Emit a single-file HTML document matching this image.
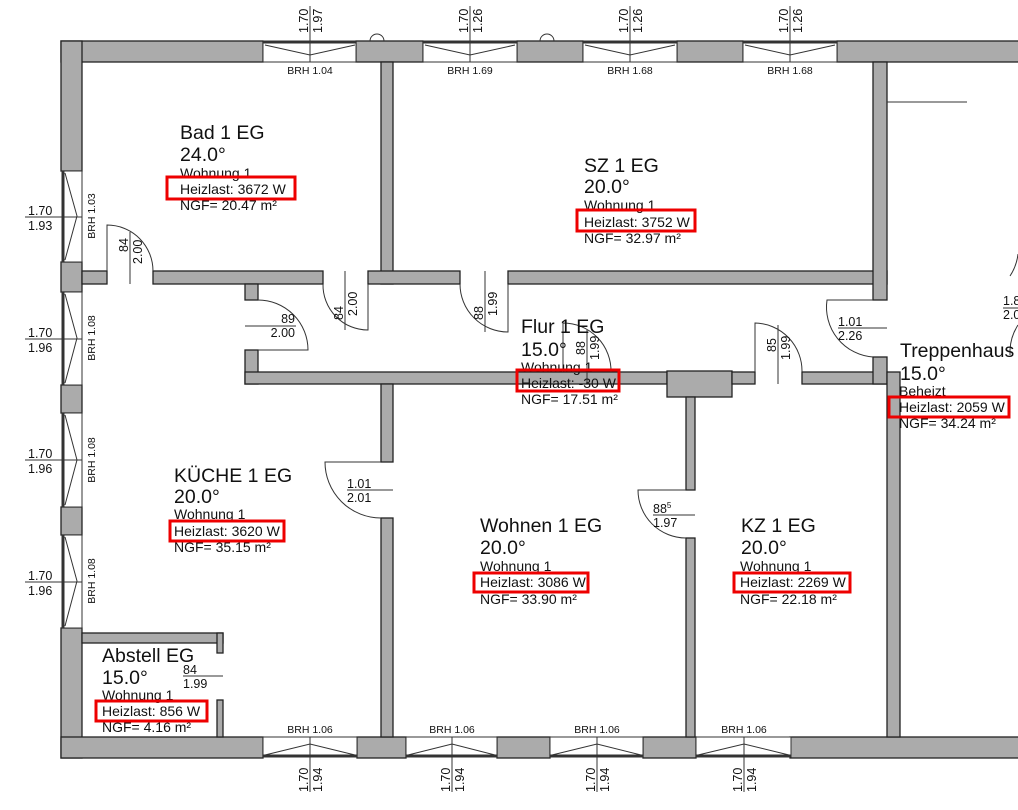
<!DOCTYPE html>
<html><head><meta charset="utf-8"><style>
html,body{margin:0;padding:0;background:#fff;}
svg{display:block;}
text{font-family:"Liberation Sans",Arial,sans-serif;fill:#111;}
.w{fill:#ababab;stroke:#222;stroke-width:1.3;}
.l{stroke:#333;stroke-width:1;fill:none;}
.nm{font-size:19.5px;}
.sm{font-size:14px;}
.d{font-size:12.5px;}
.b{font-size:10.5px;}
.r{fill:none;stroke:#e00;stroke-width:3;}
</style></head><body>
<svg width="1018" height="810" viewBox="0 0 1018 810" xmlns="http://www.w3.org/2000/svg">
<!-- outer walls -->
<rect class="w" x="61" y="41" width="202" height="21"/>
<rect class="w" x="356" y="41" width="67" height="21"/>
<rect class="w" x="517" y="41" width="66" height="21"/>
<rect class="w" x="677" y="41" width="66" height="21"/>
<rect class="w" x="837" y="41" width="185" height="21"/>
<rect class="w" x="61" y="41" width="21" height="130"/>
<rect class="w" x="61" y="262" width="21" height="30"/>
<rect class="w" x="61" y="385" width="21" height="28"/>
<rect class="w" x="61" y="507" width="21" height="28"/>
<rect class="w" x="61" y="628" width="21" height="130"/>
<rect class="w" x="61" y="737" width="202" height="21"/>
<rect class="w" x="357" y="737" width="49" height="21"/>
<rect class="w" x="497" y="737" width="53" height="21"/>
<rect class="w" x="643" y="737" width="53" height="21"/>
<rect class="w" x="790" y="737" width="232" height="21"/>
<!-- interior walls -->
<rect class="w" x="381" y="62" width="12" height="222"/>
<rect class="w" x="82" y="271" width="25" height="13"/>
<rect class="w" x="153" y="271" width="170" height="13"/>
<rect class="w" x="368" y="271" width="92" height="13"/>
<rect class="w" x="508" y="271" width="379" height="13"/>
<rect class="w" x="873" y="62" width="14" height="238"/>
<rect class="w" x="245" y="284" width="13" height="16"/>
<rect class="w" x="245" y="350" width="13" height="34"/>
<rect class="w" x="245" y="372" width="422" height="12"/>
<rect class="w" x="667" y="371" width="65" height="26"/>
<rect class="w" x="732" y="372" width="23" height="12"/>
<rect class="w" x="802" y="372" width="85" height="12"/>
<rect class="w" x="873" y="357" width="14" height="27"/>
<rect class="w" x="887" y="372" width="13" height="365"/>
<rect class="w" x="381" y="384" width="12" height="78"/>
<rect class="w" x="381" y="518" width="12" height="219"/>
<rect class="w" x="686" y="397" width="9" height="93"/>
<rect class="w" x="686" y="538" width="9" height="199"/>
<rect class="w" x="82" y="633" width="141" height="10"/>
<rect class="w" x="217" y="633" width="6" height="20"/>
<rect class="w" x="217" y="700" width="6" height="37"/>
<line class="l" x1="887" y1="102" x2="967" y2="102"/>

<!-- top windows -->
<g>
<g class="l">
<rect x="263" y="42" width="93" height="20" fill="#fff"/><line x1="263" y1="42" x2="356" y2="42" stroke-width="3"/>
<polyline points="265,45 310,55 355,45"/><line x1="310" y1="6" x2="310" y2="62"/>
<rect x="423" y="42" width="94" height="20" fill="#fff"/><line x1="423" y1="42" x2="517" y2="42" stroke-width="3"/>
<polyline points="425,45 470,55 515,45"/><line x1="470" y1="6" x2="470" y2="62"/>
<rect x="583" y="42" width="94" height="20" fill="#fff"/><line x1="583" y1="42" x2="677" y2="42" stroke-width="3"/>
<polyline points="585,45 630,55 675,45"/><line x1="630" y1="6" x2="630" y2="62"/>
<rect x="743" y="42" width="94" height="20" fill="#fff"/><line x1="743" y1="42" x2="837" y2="42" stroke-width="3"/>
<polyline points="745,45 790,55 835,45"/><line x1="790" y1="6" x2="790" y2="62"/>
<path d="M370 41 a7 7 0 0 1 14 0"/><path d="M540 41 a7 7 0 0 1 14 0"/>
</g>
<text class="d" transform="translate(308,33) rotate(-90)">1.70</text><text class="d" transform="translate(322,33) rotate(-90)">1.97</text>
<text class="d" transform="translate(468,33) rotate(-90)">1.70</text><text class="d" transform="translate(482,33) rotate(-90)">1.26</text>
<text class="d" transform="translate(628,33) rotate(-90)">1.70</text><text class="d" transform="translate(642,33) rotate(-90)">1.26</text>
<text class="d" transform="translate(788,33) rotate(-90)">1.70</text><text class="d" transform="translate(802,33) rotate(-90)">1.26</text>
<text class="b" x="310" y="74" text-anchor="middle">BRH 1.04</text>
<text class="b" x="470" y="74" text-anchor="middle">BRH 1.69</text>
<text class="b" x="630" y="74" text-anchor="middle">BRH 1.68</text>
<text class="b" x="790" y="74" text-anchor="middle">BRH 1.68</text>
</g>

<!-- bottom windows -->
<g class="l">
<rect x="263" y="737" width="94" height="20" fill="#fff"/><line x1="263" y1="756" x2="357" y2="756" stroke-width="3"/>
<polyline points="265,755 310,744 355,755"/><line x1="310" y1="737" x2="310" y2="792"/>
<rect x="406" y="737" width="91" height="20" fill="#fff"/><line x1="406" y1="756" x2="497" y2="756" stroke-width="3"/>
<polyline points="408,755 452,744 495,755"/><line x1="452" y1="737" x2="452" y2="792"/>
<rect x="550" y="737" width="93" height="20" fill="#fff"/><line x1="550" y1="756" x2="643" y2="756" stroke-width="3"/>
<polyline points="552,755 597,744 641,755"/><line x1="597" y1="737" x2="597" y2="792"/>
<rect x="696" y="737" width="95" height="20" fill="#fff"/><line x1="696" y1="756" x2="791" y2="756" stroke-width="3"/>
<polyline points="698,755 744,744 789,755"/><line x1="744" y1="737" x2="744" y2="792"/>
</g>
<text class="b" x="310" y="733" text-anchor="middle">BRH 1.06</text>
<text class="b" x="452" y="733" text-anchor="middle">BRH 1.06</text>
<text class="b" x="597" y="733" text-anchor="middle">BRH 1.06</text>
<text class="b" x="744" y="733" text-anchor="middle">BRH 1.06</text>
<text class="d" transform="translate(308,792) rotate(-90)">1.70</text><text class="d" transform="translate(322,792) rotate(-90)">1.94</text>
<text class="d" transform="translate(450,792) rotate(-90)">1.70</text><text class="d" transform="translate(464,792) rotate(-90)">1.94</text>
<text class="d" transform="translate(595,792) rotate(-90)">1.70</text><text class="d" transform="translate(609,792) rotate(-90)">1.94</text>
<text class="d" transform="translate(742,792) rotate(-90)">1.70</text><text class="d" transform="translate(756,792) rotate(-90)">1.94</text>

<!-- left windows -->
<g class="l">
<rect x="62" y="171" width="20" height="91" fill="#fff"/><line x1="63" y1="171" x2="63" y2="262" stroke-width="3"/>
<polyline points="65,173 77,216 65,260"/><line x1="25" y1="217" x2="82" y2="217"/>
<rect x="62" y="292" width="20" height="93" fill="#fff"/><line x1="63" y1="292" x2="63" y2="385" stroke-width="3"/>
<polyline points="65,294 77,338 65,383"/><line x1="25" y1="339" x2="82" y2="339"/>
<rect x="62" y="413" width="20" height="94" fill="#fff"/><line x1="63" y1="413" x2="63" y2="507" stroke-width="3"/>
<polyline points="65,415 77,460 65,505"/><line x1="25" y1="460" x2="82" y2="460"/>
<rect x="62" y="535" width="20" height="93" fill="#fff"/><line x1="63" y1="535" x2="63" y2="628" stroke-width="3"/>
<polyline points="65,537 77,581 65,626"/><line x1="25" y1="582" x2="82" y2="582"/>
</g>
<text class="d" x="28" y="215">1.70</text><text class="d" x="28" y="230">1.93</text>
<text class="d" x="28" y="337">1.70</text><text class="d" x="28" y="352">1.96</text>
<text class="d" x="28" y="458">1.70</text><text class="d" x="28" y="473">1.96</text>
<text class="d" x="28" y="580">1.70</text><text class="d" x="28" y="595">1.96</text>
<text class="b" transform="translate(95,216) rotate(-90)" text-anchor="middle">BRH 1.03</text>
<text class="b" transform="translate(95,338) rotate(-90)" text-anchor="middle">BRH 1.08</text>
<text class="b" transform="translate(95,460) rotate(-90)" text-anchor="middle">BRH 1.08</text>
<text class="b" transform="translate(95,581) rotate(-90)" text-anchor="middle">BRH 1.08</text>

<!-- doors -->
<g class="l">
<path d="M107 271 V225 A46 46 0 0 1 153 271"/><line x1="130" y1="232" x2="130" y2="284"/>
<path d="M368 284 V330 A45 45 0 0 1 323 284"/><line x1="345" y1="271" x2="345" y2="330"/>
<path d="M508 284 V332 A48 48 0 0 1 460 284"/><line x1="485" y1="271" x2="485" y2="332"/>
<path d="M258 300 A50 50 0 0 1 308 350 H258"/><line x1="245" y1="326" x2="296" y2="326"/>
<path d="M563 372 V323 A48 48 0 0 1 611 372"/><line x1="587" y1="330" x2="587" y2="384"/>
<path d="M755 372 V323 A48 48 0 0 1 802 372"/><line x1="778" y1="325" x2="778" y2="384"/>
<path d="M873 300 H827 A50 50 0 0 0 873 357"/><line x1="838" y1="328" x2="887" y2="328"/>
<path d="M381 462 H325 A56 56 0 0 0 381 518"/><line x1="347" y1="490" x2="393" y2="490"/>
<path d="M686 490 H638 A48 48 0 0 0 686 538"/><line x1="653" y1="515" x2="695" y2="515"/>
<line x1="183" y1="676" x2="223" y2="676"/>
<path d="M1018 254 A50 50 0 0 1 1010 276"/><path d="M1018 325 A50 50 0 0 0 1010 350 V355"/>
<line x1="1003" y1="308" x2="1018" y2="308"/>
</g>
<text class="d" transform="translate(128,252) rotate(-90)">84</text><text class="d" transform="translate(142,264) rotate(-90)">2.00</text>
<text class="d" transform="translate(343,320) rotate(-90)">84</text><text class="d" transform="translate(357,316) rotate(-90)">2.00</text>
<text class="d" transform="translate(483,320) rotate(-90)">88</text><text class="d" transform="translate(497,316) rotate(-90)">1.99</text>
<text class="d" x="295" y="323" text-anchor="end">89</text><text class="d" x="295" y="337" text-anchor="end">2.00</text>
<text class="d" transform="translate(585,355) rotate(-90)">88</text><text class="d" transform="translate(599,360) rotate(-90)">1.99</text>
<text class="d" transform="translate(776,352) rotate(-90)">85</text><text class="d" transform="translate(790,360) rotate(-90)">1.99</text>
<text class="d" x="838" y="326">1.01</text><text class="d" x="838" y="340">2.26</text>
<text class="d" x="347" y="488">1.01</text><text class="d" x="347" y="502">2.01</text>
<text class="d" x="653" y="513">88<tspan font-size="8" dy="-5">5</tspan></text><text class="d" x="653" y="527">1.97</text>
<text class="d" x="183" y="674">84</text><text class="d" x="183" y="688">1.99</text>
<text class="d" x="1003" y="305">1.8</text><text class="d" x="1003" y="319">2.0</text>

<!-- room labels -->
<g>
<text class="nm" x="180" y="139">Bad 1 EG</text><text class="nm" x="180" y="161">24.0°</text>
<text class="sm" x="180" y="178">Wohnung 1</text><text class="sm" x="180" y="194">Heizlast: 3672 W</text><text class="sm" x="180" y="210">NGF= 20.47 m²</text>
<rect class="r" x="167" y="177" width="128" height="22"/>

<text class="nm" x="584" y="172">SZ 1 EG</text><text class="nm" x="584" y="193">20.0°</text>
<text class="sm" x="584" y="210">Wohnung 1</text><text class="sm" x="584" y="227">Heizlast: 3752 W</text><text class="sm" x="584" y="243">NGF= 32.97 m²</text>
<rect class="r" x="577" y="210" width="118" height="21"/>

<text class="nm" x="521" y="333">Flur 1 EG</text><text class="nm" x="521" y="356">15.0°</text>
<text class="sm" x="521" y="372">Wohnung 1</text><text class="sm" x="521" y="388">Heizlast: -30 W</text><text class="sm" x="521" y="404">NGF= 17.51 m²</text>
<rect class="r" x="517" y="370" width="102" height="21"/>

<text class="nm" x="900" y="357">Treppenhaus</text><text class="nm" x="900" y="380">15.0°</text>
<text class="sm" x="899" y="396">Beheizt</text><text class="sm" x="899" y="412">Heizlast: 2059 W</text><text class="sm" x="899" y="428">NGF= 34.24 m²</text>
<rect class="r" x="889" y="397" width="120" height="20"/>

<text class="nm" x="174" y="482">KÜCHE 1 EG</text><text class="nm" x="174" y="503">20.0°</text>
<text class="sm" x="174" y="519">Wohnung 1</text><text class="sm" x="174" y="536">Heizlast: 3620 W</text><text class="sm" x="174" y="552">NGF= 35.15 m²</text>
<rect class="r" x="170" y="521" width="114" height="20"/>

<text class="nm" x="480" y="532">Wohnen 1 EG</text><text class="nm" x="480" y="554">20.0°</text>
<text class="sm" x="480" y="571">Wohnung 1</text><text class="sm" x="480" y="587">Heizlast: 3086 W</text><text class="sm" x="480" y="604">NGF= 33.90 m²</text>
<rect class="r" x="474" y="573" width="114" height="19"/>

<text class="nm" x="741" y="532">KZ 1 EG</text><text class="nm" x="741" y="554">20.0°</text>
<text class="sm" x="740" y="571">Wohnung 1</text><text class="sm" x="740" y="587">Heizlast: 2269 W</text><text class="sm" x="740" y="604">NGF= 22.18 m²</text>
<rect class="r" x="734" y="573" width="116" height="19"/>

<text class="nm" x="102" y="662">Abstell EG</text><text class="nm" x="102" y="684">15.0°</text>
<text class="sm" x="102" y="700">Wohnung 1</text><text class="sm" x="102" y="716">Heizlast: 856 W</text><text class="sm" x="102" y="732">NGF= 4.16 m²</text>
<rect class="r" x="96" y="701" width="111" height="20"/>
</g>
</svg>
</body></html>
